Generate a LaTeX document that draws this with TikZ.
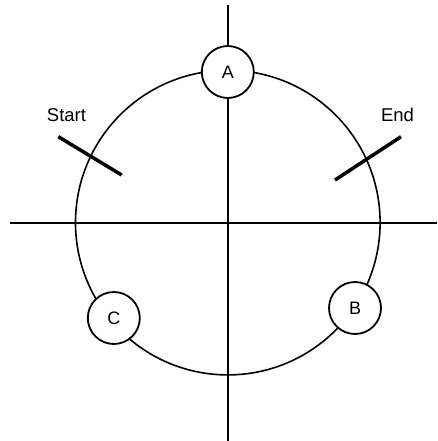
\documentclass[tikz,border=0pt]{standalone}
\usepackage{fontspec}
\setmainfont{Liberation Sans}
\begin{document}
\begin{tikzpicture}[x=1pt,y=-1pt,
  axis/.style={line width=2pt,black},
  ring/.style={line width=1.6pt,black},
  pt/.style={circle,draw=black,line width=1.8pt,fill=white,minimum size=52pt,inner sep=0pt,font=\fontsize{18}{20}\selectfont},
  marker/.style={line width=3.5pt,black},
  lbl/.style={font=\fontsize{18.5}{20}\selectfont,inner sep=0pt}]
\useasboundingbox (0,0) rectangle (437,441);
\coordinate (O) at (227.8,222.6);
\coordinate (xl) at (10,222.6);
\coordinate (xr) at (437,222.6);
\coordinate (yt) at (227.8,4.7);
\coordinate (yb) at (227.8,441);
\draw[axis] (xl) -- (xr);
\draw[axis] (yt) -- (yb);
\draw[ring] (O) circle[radius=152.3pt];
\coordinate (s1) at (58.3,136.7);
\coordinate (s2) at (121.7,175);
\coordinate (e1) at (335,180);
\coordinate (e2) at (401,136.7);
\draw[marker] (s1) -- (s2);
\draw[marker] (e1) -- (e2);
\node[lbl] (start) at (66.5,115.5) {Start};
\node[lbl] (end) at (397.5,115) {End};
\node[pt] (A) at (227.8,72) {A};
\node[pt] (B) at (355,308) {B};
\node[pt] (C) at (113.8,318) {C};
\end{tikzpicture}
\end{document}
